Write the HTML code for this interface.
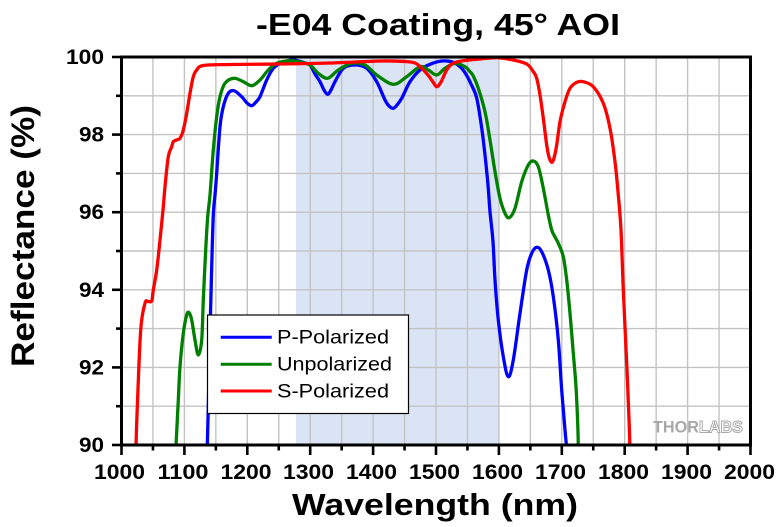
<!DOCTYPE html>
<html>
<head>
<meta charset="utf-8">
<style>
html,body{margin:0;padding:0;background:#fff;}
svg{display:block;}
text{font-family:"Liberation Sans",Arial,sans-serif;}
</style>
</head>
<body>
<svg id="chart" width="780" height="527" viewBox="0 0 780 527" xmlns="http://www.w3.org/2000/svg">
<defs>
<clipPath id="pc"><rect x="121.5" y="57" width="629" height="388"/></clipPath>
</defs>
<rect x="0" y="0" width="780" height="527" fill="#fff"/>
<!-- shaded band -->
<rect x="296" y="57" width="202.5" height="388" fill="#dbe4f5"/>
<!-- grid -->
<g stroke="#c3c3c3" stroke-width="1.4">
<line x1="152.95" y1="57" x2="152.95" y2="445"/>
<line x1="184.4" y1="57" x2="184.4" y2="445"/>
<line x1="215.85" y1="57" x2="215.85" y2="445"/>
<line x1="247.3" y1="57" x2="247.3" y2="445"/>
<line x1="278.75" y1="57" x2="278.75" y2="445"/>
<line x1="310.2" y1="57" x2="310.2" y2="445"/>
<line x1="341.65" y1="57" x2="341.65" y2="445"/>
<line x1="373.1" y1="57" x2="373.1" y2="445"/>
<line x1="404.55" y1="57" x2="404.55" y2="445"/>
<line x1="436" y1="57" x2="436" y2="445"/>
<line x1="467.45" y1="57" x2="467.45" y2="445"/>
<line x1="498.9" y1="57" x2="498.9" y2="445"/>
<line x1="530.35" y1="57" x2="530.35" y2="445"/>
<line x1="561.8" y1="57" x2="561.8" y2="445"/>
<line x1="593.25" y1="57" x2="593.25" y2="445"/>
<line x1="624.7" y1="57" x2="624.7" y2="445"/>
<line x1="656.15" y1="57" x2="656.15" y2="445"/>
<line x1="687.6" y1="57" x2="687.6" y2="445"/>
<line x1="719.05" y1="57" x2="719.05" y2="445"/>
<line x1="121.5" y1="95.8" x2="750.5" y2="95.8"/>
<line x1="121.5" y1="134.6" x2="750.5" y2="134.6"/>
<line x1="121.5" y1="173.4" x2="750.5" y2="173.4"/>
<line x1="121.5" y1="212.2" x2="750.5" y2="212.2"/>
<line x1="121.5" y1="251" x2="750.5" y2="251"/>
<line x1="121.5" y1="289.8" x2="750.5" y2="289.8"/>
<line x1="121.5" y1="328.6" x2="750.5" y2="328.6"/>
<line x1="121.5" y1="367.4" x2="750.5" y2="367.4"/>
<line x1="121.5" y1="406.2" x2="750.5" y2="406.2"/>
</g>
<!-- watermark -->
<text x="653" y="432.5" font-size="17" font-weight="bold" textLength="90" lengthAdjust="spacingAndGlyphs"><tspan fill="#a8a8a8">THOR</tspan><tspan fill="#fff" stroke="#a8a8a8" stroke-width="1">LABS</tspan></text>
<!-- curves -->
<g clip-path="url(#pc)" fill="none" stroke-width="3.3" stroke-linejoin="round" stroke-linecap="round">
<polyline class="s" stroke="#0000ff" points="207.3,446 208.3,406.7 210,333 211.7,266.7 213.3,215 215,195 216.7,173.3 220,126.7 223.3,106.7 228.3,93.3 234,90.7 241.7,96.7 247,103 251.7,105.7 256,102 260,96.7 266.7,80 273.3,68.3 281.7,62.7 293.3,60 305,63 310,65 315,74 320,81.7 324,90 327.7,94.3 331,90 335,81.7 343.3,68.3 355,65 366.7,68.3 376.7,81.7 385,100 389,106 393.3,108.3 397,105 401.7,98.3 410,81.7 420,70 430,64.3 441.7,61 453.3,62.3 461.7,68.3 467,76 471,84 476.7,98 481.7,128 485,155 488,185 490,211.7 493,241.7 495,280 498.3,320 503.3,356.7 508.3,376.7 513.3,360 520,313.3 526.7,270 531.7,253.3 536.7,247.3 541.7,251.7 548.3,270 553.3,296.7 558.3,340 561.7,390 565,430 566.5,446"/>
<polyline class="s" stroke="#008000" points="176,446 178.3,400 180,366.7 183.3,333.3 186.7,315 189,312.7 191.7,320 195,340 198.3,355 201.7,340 203.3,300 205.7,250 207.7,216.7 210,195 213.3,150 216.7,116.7 220,96.7 225,83.3 234,78.3 243.3,81.7 251.7,85.7 260,80 268.3,70 276.7,63.3 290,60.7 300,62 310,65 318.3,73.3 327.7,78.3 338.3,70 351.7,63.3 365,65 376.7,75 393.3,84.3 406.7,76.7 420,66.7 428.3,70 436.7,75 445,68.3 455,63.3 465,66.7 470,71.7 473.3,76 478.3,88.3 485,111.7 490,140 495,171.7 500,198.3 505,213.3 509.3,217.7 515,208.3 521.7,181.7 528.3,165 533.3,161 538.3,166.7 543.3,188.3 548.3,215 551.7,230 555,237 558.3,243.3 563.3,256.7 566.7,280 570,313.3 573.3,353.3 576,386.7 577.7,423.3 578.3,446"/>
<polyline class="s" stroke="#ff0000" points="136,446 137.3,407 140.7,330 145,303.3 148,301.5 151.7,301 153.3,290 156.7,270 160,240 163.3,206.7 165,186.7 168.3,156.7 171.7,146.7 173.3,141.7 176.5,140 180,138.3 183.3,130 186.7,113.3 190,93.3 193.3,76.7 196.7,70 203.3,65.5 230,64.5 280,64 330,63 380,61 405,61.5 415,63 420,66.7 428,75 433,82 436.7,86.7 441,82 446.7,70 453,63.3 465,60.5 480,59 496.7,57.7 513,60 526.7,64 533.3,71.7 536.7,78.3 540,95 543.3,118.3 546.7,145 549,157 551.7,162.3 554,158 556.7,145 560,121.7 565,101.7 570,88.3 576.7,82.3 583.3,81.7 593.3,86.7 603.3,103.3 610,128.3 615,161.7 618.3,195 621,230 623.3,290 626.7,363.3 629.3,426.7 629.8,446"/>
</g>
<!-- frame -->
<rect x="121.5" y="57" width="629" height="388" fill="none" stroke="#000" stroke-width="3"/>
<!-- ticks -->
<g stroke="#000" stroke-width="2.6">
<line x1="112" y1="57" x2="121.5" y2="57"/>
<line x1="116" y1="95.8" x2="121.5" y2="95.8"/>
<line x1="112" y1="134.6" x2="121.5" y2="134.6"/>
<line x1="116" y1="173.4" x2="121.5" y2="173.4"/>
<line x1="112" y1="212.2" x2="121.5" y2="212.2"/>
<line x1="116" y1="251" x2="121.5" y2="251"/>
<line x1="112" y1="289.8" x2="121.5" y2="289.8"/>
<line x1="116" y1="328.6" x2="121.5" y2="328.6"/>
<line x1="112" y1="367.4" x2="121.5" y2="367.4"/>
<line x1="116" y1="406.2" x2="121.5" y2="406.2"/>
<line x1="112" y1="445" x2="121.5" y2="445"/>
<line x1="121.5" y1="445" x2="121.5" y2="455"/>
<line x1="152.95" y1="445" x2="152.95" y2="450.5"/>
<line x1="184.4" y1="445" x2="184.4" y2="455"/>
<line x1="215.85" y1="445" x2="215.85" y2="450.5"/>
<line x1="247.3" y1="445" x2="247.3" y2="455"/>
<line x1="278.75" y1="445" x2="278.75" y2="450.5"/>
<line x1="310.2" y1="445" x2="310.2" y2="455"/>
<line x1="341.65" y1="445" x2="341.65" y2="450.5"/>
<line x1="373.1" y1="445" x2="373.1" y2="455"/>
<line x1="404.55" y1="445" x2="404.55" y2="450.5"/>
<line x1="436" y1="445" x2="436" y2="455"/>
<line x1="467.45" y1="445" x2="467.45" y2="450.5"/>
<line x1="498.9" y1="445" x2="498.9" y2="455"/>
<line x1="530.35" y1="445" x2="530.35" y2="450.5"/>
<line x1="561.8" y1="445" x2="561.8" y2="455"/>
<line x1="593.25" y1="445" x2="593.25" y2="450.5"/>
<line x1="624.7" y1="445" x2="624.7" y2="455"/>
<line x1="656.15" y1="445" x2="656.15" y2="450.5"/>
<line x1="687.6" y1="445" x2="687.6" y2="455"/>
<line x1="719.05" y1="445" x2="719.05" y2="450.5"/>
<line x1="750.5" y1="445" x2="750.5" y2="455"/>
</g>
<!-- y tick labels -->
<g font-size="21" font-weight="bold" text-anchor="end" fill="#000">
<text x="104" y="64" textLength="38" lengthAdjust="spacingAndGlyphs">100</text>
<text x="104" y="141.6" textLength="25" lengthAdjust="spacingAndGlyphs">98</text>
<text x="104" y="219.2" textLength="25" lengthAdjust="spacingAndGlyphs">96</text>
<text x="104" y="296.8" textLength="25" lengthAdjust="spacingAndGlyphs">94</text>
<text x="104" y="374.4" textLength="25" lengthAdjust="spacingAndGlyphs">92</text>
<text x="104" y="452" textLength="25" lengthAdjust="spacingAndGlyphs">90</text>
</g>
<!-- x tick labels -->
<g font-size="21" font-weight="bold" text-anchor="middle" fill="#000">
<text x="119.5" y="479" textLength="51" lengthAdjust="spacingAndGlyphs">1000</text>
<text x="183" y="479" textLength="51" lengthAdjust="spacingAndGlyphs">1100</text>
<text x="246" y="479" textLength="51" lengthAdjust="spacingAndGlyphs">1200</text>
<text x="308.5" y="479" textLength="51" lengthAdjust="spacingAndGlyphs">1300</text>
<text x="371.5" y="479" textLength="51" lengthAdjust="spacingAndGlyphs">1400</text>
<text x="434.5" y="479" textLength="51" lengthAdjust="spacingAndGlyphs">1500</text>
<text x="497.5" y="479" textLength="51" lengthAdjust="spacingAndGlyphs">1600</text>
<text x="560.5" y="479" textLength="51" lengthAdjust="spacingAndGlyphs">1700</text>
<text x="623.5" y="479" textLength="51" lengthAdjust="spacingAndGlyphs">1800</text>
<text x="686.5" y="479" textLength="51" lengthAdjust="spacingAndGlyphs">1900</text>
<text x="749.5" y="479" textLength="51" lengthAdjust="spacingAndGlyphs">2000</text>
</g>
<!-- titles -->
<text x="438" y="35" font-size="31" font-weight="bold" text-anchor="middle" textLength="364" lengthAdjust="spacingAndGlyphs">-E04 Coating, 45° AOI</text>
<text x="435" y="515" font-size="31" font-weight="bold" text-anchor="middle" textLength="286" lengthAdjust="spacingAndGlyphs">Wavelength (nm)</text>
<text transform="translate(34,236) rotate(-90)" font-size="32" font-weight="bold" text-anchor="middle" textLength="262" lengthAdjust="spacingAndGlyphs">Reflectance (%)</text>
<!-- legend -->
<rect x="207.5" y="315" width="201" height="98.5" fill="#fff" stroke="#000" stroke-width="1.2"/>
<line x1="220.7" y1="337.3" x2="271.7" y2="337.3" stroke="#0000ff" stroke-width="3"/>
<line x1="220.7" y1="364.3" x2="271.7" y2="364.3" stroke="#008000" stroke-width="3"/>
<line x1="220.7" y1="391" x2="271.7" y2="391" stroke="#ff0000" stroke-width="3"/>
<g font-size="19" fill="#000">
<text x="277" y="343.5" textLength="112" lengthAdjust="spacingAndGlyphs">P-Polarized</text>
<text x="277" y="370.3" textLength="115" lengthAdjust="spacingAndGlyphs">Unpolarized</text>
<text x="277" y="397.3" textLength="112" lengthAdjust="spacingAndGlyphs">S-Polarized</text>
</g>
</svg>
<script>
(function(){
  try{
    var NS="http://www.w3.org/2000/svg";
    var pls=document.querySelectorAll("polyline.s");
    for(var k=0;k<pls.length;k++){
      var pl=pls[k];
      var raw=pl.getAttribute("points").trim().split(/\s+/);
      var p=[];
      for(var i=0;i<raw.length;i++){var c=raw[i].split(",");p.push([+c[0],+c[1]]);}
      var d="M"+p[0][0]+","+p[0][1];
      for(var i=0;i<p.length-1;i++){
        var p0=p[i>0?i-1:i],p1=p[i],p2=p[i+1],p3=p[i+2<p.length?i+2:i+1];
        var c1x=p1[0]+(p2[0]-p0[0])/6,c1y=p1[1]+(p2[1]-p0[1])/6;
        var c2x=p2[0]-(p3[0]-p1[0])/6,c2y=p2[1]-(p3[1]-p1[1])/6;
        d+=" C"+c1x.toFixed(2)+","+c1y.toFixed(2)+" "+c2x.toFixed(2)+","+c2y.toFixed(2)+" "+p2[0]+","+p2[1];
      }
      var path=document.createElementNS(NS,"path");
      path.setAttribute("d",d);
      path.setAttribute("stroke",pl.getAttribute("stroke"));
      pl.parentNode.replaceChild(path,pl);
    }
  }catch(e){}
})();
</script>
</body>
</html>
